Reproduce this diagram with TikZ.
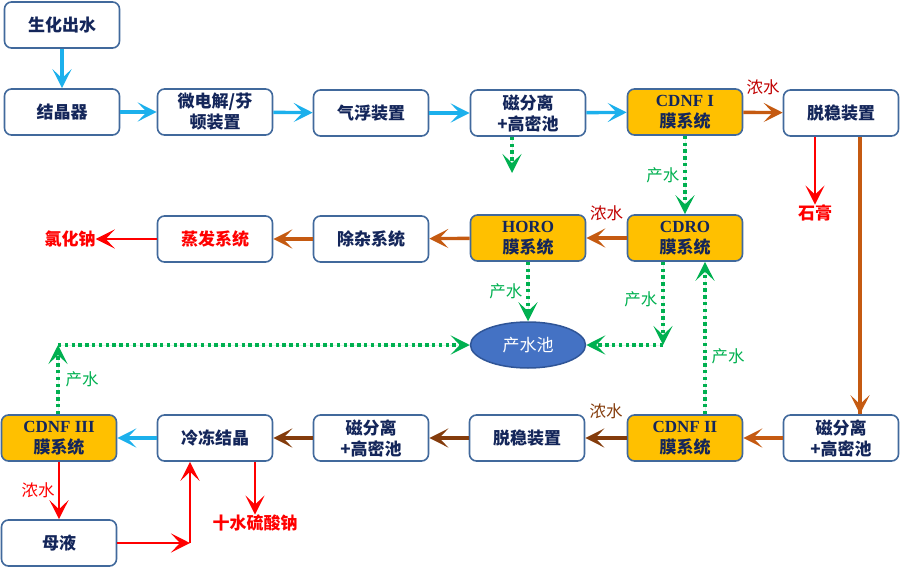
\documentclass[tikz,border=0pt]{standalone}
\usepackage{fontspec}
\setmainfont{Noto Sans CJK SC}
\newfontfamily\lat{Liberation Serif}
\usetikzlibrary{arrows.meta,shapes.geometric}
\definecolor{cy}{HTML}{1CB0EC}
\definecolor{orn}{HTML}{C55A11}
\definecolor{brn}{HTML}{843C0C}
\definecolor{grn}{HTML}{00B050}
\definecolor{navy}{HTML}{14265A}
\definecolor{bord}{HTML}{41699C}
\definecolor{gold}{HTML}{FFC000}
\definecolor{dred}{HTML}{C00000}
\definecolor{ellf}{HTML}{4472C4}
\definecolor{elld}{HTML}{2F5597}
\tikzset{
  box/.style={draw=bord, line width=1.6pt, rounded corners=7pt, fill=white,
    minimum width=115pt, minimum height=46pt, align=center, text=navy,
    font=\fontsize{17}{21}\selectfont\bfseries, inner sep=1pt},
  mem/.style={box, fill=gold},
  tipx/.style={-{Stealth[length=19pt,width=19pt,inset=9pt]}},
  conn/.style={line width=3.4pt, tipx},
  cyl/.style={conn, draw=cy, fill=cy},
  orl/.style={conn, draw=orn, fill=orn},
  brl/.style={conn, draw=brn, fill=brn},
  rdl/.style={conn, draw=red, fill=red, line width=2.6pt},
  gdot/.style={conn, draw=grn, fill=grn, dash pattern=on 3.4pt off 3.4pt},
  lbl/.style={font=\fontsize{16.5}{18}\selectfont, inner sep=0pt},
  prod/.style={font=\fontsize{17}{18}\selectfont\bfseries, text=red, inner sep=0pt},
}
\begin{document}
\begin{tikzpicture}[x=1pt,y=-1pt]
\useasboundingbox (0,0) rectangle (900,567);
% row 1
\node[box] (shcs) at (62,25) {生化出水};
\node[box] (jjq) at (62,112) {结晶器};
\node[box] (wdj) at (215,112) {微电解/芬\\顿装置};
\node[box] (qf) at (371,113) {气浮装置};
\node[box] (cfl1) at (528,113) {磁分离\\+高密池};
\node[mem] (cdnf1) at (685,112) {{\lat CDNF I}\\膜系统};
\node[box] (tw1) at (841,113) {脱稳装置};
\node[prod] (sg) at (815,213) {石膏};
% row 2
\node[mem] (cdro) at (685,238) {{\lat CDRO}\\膜系统};
\node[mem] (horo) at (528,238) {{\lat HORO}\\膜系统};
\node[box] (cz) at (371,239) {除杂系统};
\node[box, text=red] (zf) at (215,239) {蒸发系统};
\node[prod] (nacl) at (70,239) {氯化钠};
% pool
\node[ellipse, draw=elld, line width=1.5pt, fill=ellf, minimum width=115pt, minimum height=46pt,
  text=white, font=\fontsize{17}{18}\selectfont, inner sep=0pt] (pool) at (528,345) {产水池};
% row 3
\node[box] (cfl2) at (841,438) {磁分离\\+高密池};
\node[mem] (cdnf2) at (685,438) {{\lat CDNF II}\\膜系统};
\node[box] (tw2) at (527,438) {脱稳装置};
\node[box] (cfl3) at (371,438) {磁分离\\+高密池};
\node[box] (ldjj) at (215,438) {冷冻结晶};
\node[mem] (cdnf3) at (59,438) {{\lat CDNF III}\\膜系统};
\node[box] (my) at (59,543) {母液};
\node[prod] (ss) at (255,523) {十水硫酸钠};
% coordinates
\coordinate (d1) at (512,173);
\coordinate (c1) at (663,345);
\coordinate (c2) at (58,345);
\coordinate (c3) at (190,543);
% row 1 connectors
\draw[cyl] (shcs) -- (jjq);
\draw[cyl] (jjq) -- (wdj);
\draw[cyl] (wdj) -- (qf);
\draw[cyl] (qf) -- (cfl1);
\draw[cyl] (cfl1) -- (cdnf1);
\draw[gdot] (cfl1.south -| d1) -- (d1);
\draw[orl] (cdnf1) -- (tw1) node[midway, above=16pt, lbl, text=dred] {浓水};
\draw[gdot] (cdnf1) -- (cdro) node[midway, left=4pt, lbl, text=grn] {产水};
\draw[rdl] (tw1.south -| sg.north) -- (sg.north);
\draw[line width=3.4pt, draw=orn] ([xshift=19pt]tw1.south) -- ([xshift=19pt]cfl2.north);
\draw[orl] ([xshift=19pt]cfl2.north) ++(0,-2) -- ([xshift=19pt]cfl2.north);
% row 2 connectors
\draw[orl] (cdro) -- (horo) node[midway, above=15pt, lbl, text=dred] {浓水};
\draw[orl] (horo) -- (cz);
\draw[orl] (cz) -- (zf);
\draw[rdl] (zf) -- (nacl);
\draw[gdot] (horo) -- (pool) node[midway, left=4pt, lbl, text=grn] {产水};
\draw[gdot] ([xshift=-22pt]cdro.south) -- (c1) node[pos=0.45, left=4pt, lbl, text=grn] {产水};
\draw[gdot] (c1) -- (pool.east);
\draw[gdot] ([xshift=20pt]cdnf2.north) -- ([xshift=20pt]cdro.south) node[pos=0.38, right=5pt, lbl, text=grn] {产水};
\draw[gdot] (cdnf3.north -| c2) -- (c2) node[midway, right=6pt, lbl, text=grn] {产水};
\draw[gdot] (c2) -- (pool.west);
% row 3 connectors
\draw[orl] (cfl2) -- (cdnf2);
\draw[brl] (cdnf2) -- (tw2) node[midway, above=17pt, lbl, text=brn] {浓水};
\draw[brl] (tw2) -- (cfl3);
\draw[brl] (cfl3) -- (ldjj);
\draw[cyl] (ldjj) -- (cdnf3);
\draw[rdl] (cdnf3) -- (my) node[midway, left=3pt, lbl, text=red] {浓水};
\draw[rdl] (my) -- (c3);
\draw[rdl] (c3) -- (ldjj.south -| c3);
\draw[rdl] (ldjj.south -| ss.north) -- (ss.north);
\end{tikzpicture}
\end{document}
